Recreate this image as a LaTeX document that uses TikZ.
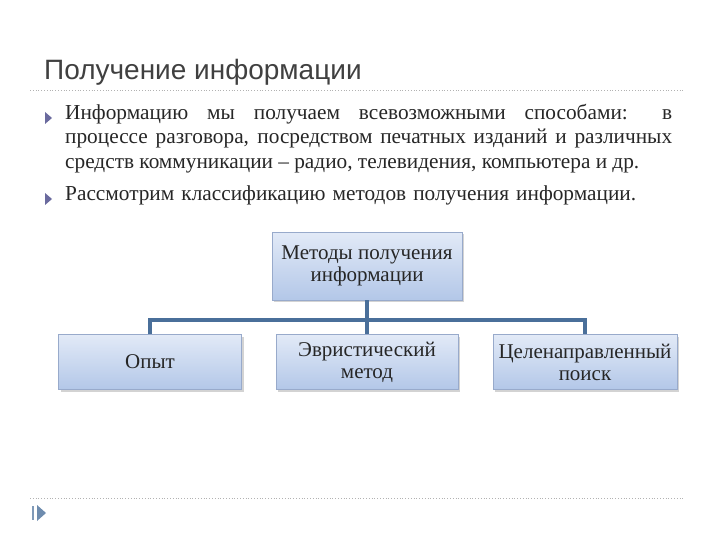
\documentclass[tikz,border=0pt]{standalone}
\usepackage{fontspec}
\setmainfont{Liberation Serif}
\newfontfamily\titlefont{Liberation Sans}
\usetikzlibrary{shadows}
\definecolor{linec}{HTML}{4A6F9A}
\definecolor{bulc}{HTML}{6A6A9E}
\definecolor{boxtop}{HTML}{E2EAF7}
\definecolor{boxbot}{HTML}{B3C7E8}
\definecolor{boxdraw}{HTML}{98AACB}
\tikzset{
  box/.style={rectangle, draw=boxdraw, top color=boxtop, bottom color=boxbot, align=center,
    font=\fontsize{21}{22}\selectfont, text=black!85, inner sep=0pt,
    drop shadow={shadow xshift=2pt, shadow yshift=-2pt, opacity=0.35}},
  conn/.style={draw=linec, line width=3.2pt},
  dotline/.style={draw=black!30, dotted, line width=0.8pt},
  bul/.style={fill=bulc}
}
\begin{document}
\begin{tikzpicture}[x=1pt,y=-1pt]
\useasboundingbox (0,0) rectangle (720,540);
\node[anchor=base west, font=\titlefont\fontsize{28}{30}\selectfont, text=black!75, inner sep=0pt] (title) at (44,80) {Получение информации};
\draw[dotline] (30,90) -- (685,90);
\draw[dotline] (30,498) -- (685,498);
% bullets
\fill[bul] (45,112) -- (52,118) -- (45,124) -- cycle;
\fill[bul] (45,193) -- (52,199) -- (45,205) -- cycle;
\node[anchor=north west, inner sep=0pt, text width=607pt, font=\fontsize{21.3}{24.5}\selectfont, text=black!85, align=justify] (p1) at (65,104)
 {Информацию мы получаем всевозможными способами: в\linebreak процессе разговора, посредством печатных изданий и различных\linebreak средств коммуникации -- радио, телевидения, компьютера и др.};
\node[anchor=north west, inner sep=0pt, text width=620pt, font=\fontsize{21.3}{24.5}\selectfont, text=black!85, align=left] (p2) at (65,186)
 {Рассмотрим классификацию методов получения информации.};
% boxes
\node[box, minimum width=190pt, minimum height=68pt] (top) at (367,266) {Методы получения\\информации};
\node[box, minimum width=183pt, minimum height=55pt] (b1) at (150,362) {Опыт};
\node[box, minimum width=182pt, minimum height=55pt] (b2) at (367,362) {Эвристический\\метод};
\node[box, minimum width=184pt, minimum height=55pt] (b3) at (585,362) {Целенаправленный\\поиск};
\coordinate (j) at (367,320);
\draw[conn] (top.south) -- (j);
\draw[conn] (b1.north) |- (j) -| (b3.north);
\draw[conn] (j) -- (b2.north);
% bottom-left nav arrow
\draw[draw=linec!70, line width=2pt] (33,506) -- (33,520);
\fill[linec!80] (37,505) -- (46,513) -- (37,521) -- cycle;
\end{tikzpicture}
\end{document}
